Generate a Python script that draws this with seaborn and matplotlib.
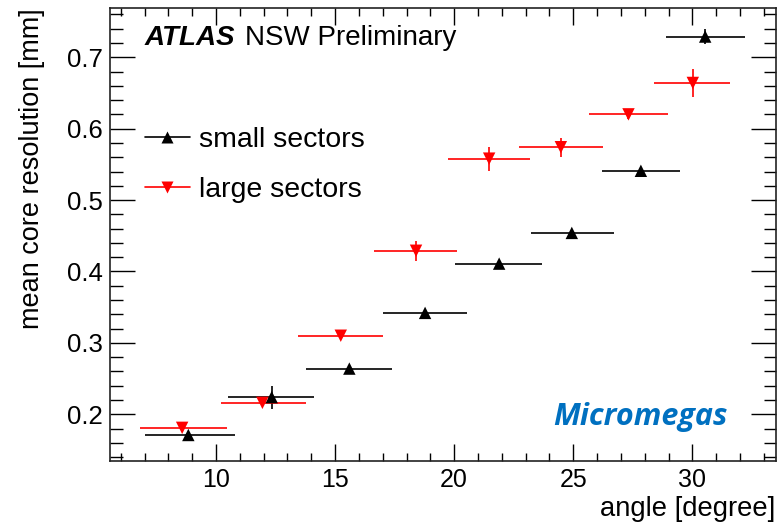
import matplotlib
matplotlib.use("Agg")
import matplotlib.pyplot as plt
from matplotlib.lines import Line2D
from matplotlib.ticker import MultipleLocator
import seaborn as sns
import pandas as pd

# ---- data ----
small_x = [8.84, 12.34, 15.60, 18.78, 21.89, 24.94, 27.84, 30.54]
small_y = [0.171, 0.224, 0.264, 0.342, 0.411, 0.454, 0.541, 0.729]
small_xlo = [7.02, 10.52, 13.78, 17.00, 20.05, 23.22, 26.20, 28.90]
small_xhi = [10.80, 14.10, 17.40, 20.56, 23.68, 26.73, 29.50, 32.20]
small_yerr = [0.004, 0.016, 0.004, 0.004, 0.003, 0.004, 0.004, 0.011]

large_x = [8.58, 11.95, 15.24, 18.40, 21.47, 24.48, 27.32, 30.02]
large_y = [0.181, 0.216, 0.310, 0.429, 0.558, 0.574, 0.620, 0.664]
large_xlo = [6.80, 10.20, 13.46, 16.64, 19.75, 22.74, 25.67, 28.40]
large_xhi = [10.45, 13.77, 17.03, 20.14, 23.19, 26.23, 28.98, 31.60]
large_yerr = [0.004, 0.005, 0.005, 0.014, 0.017, 0.013, 0.006, 0.020]

series_labels = ["small sectors", "large sectors"]
xlabel = "angle [degree]"
ylabel = "mean core resolution [mm]"

sns.set_theme(style="ticks")
plt.rcParams["font.family"] = ["Liberation Sans", "DejaVu Sans"]
plt.rcParams["text.color"] = "black"
plt.rcParams["axes.labelcolor"] = "black"
plt.rcParams["xtick.color"] = "black"
plt.rcParams["ytick.color"] = "black"

fig = plt.figure(figsize=(7.81, 5.22), dpi=100)
ax = fig.add_axes([0.1408, 0.1169, 0.8524, 0.8678])

df_s = pd.DataFrame({"x": small_x, "y": small_y})
df_l = pd.DataFrame({"x": large_x, "y": large_y})

def draw(xs, ys, xlo, xhi, yerr, color):
    xe = [[x - lo for x, lo in zip(xs, xlo)], [hi - x for x, hi in zip(xs, xhi)]]
    ax.errorbar(xs, ys, xerr=xe, yerr=yerr, fmt="none", ecolor=color,
                elinewidth=1.2, capsize=0, zorder=2)

draw(small_x, small_y, small_xlo, small_xhi, small_yerr, "black")
draw(large_x, large_y, large_xlo, large_xhi, large_yerr, "#ff0000")
sns.scatterplot(data=df_s, x="x", y="y", marker="^", color="black", s=80,
                edgecolor="none", ax=ax, zorder=3)
sns.scatterplot(data=df_l, x="x", y="y", marker="v", color="#ff0000", s=80,
                edgecolor="none", ax=ax, zorder=3)

ax.set_xlim(5.55, 33.5)
ax.set_ylim(0.1346, 0.769)
ax.xaxis.set_major_locator(MultipleLocator(5))
ax.xaxis.set_minor_locator(MultipleLocator(1))
ax.yaxis.set_major_locator(MultipleLocator(0.1))
ax.yaxis.set_minor_locator(MultipleLocator(0.02))
ax.set_xticks([10, 15, 20, 25, 30])
ax.set_yticks([0.2, 0.3, 0.4, 0.5, 0.6, 0.7])
ax.set_yticklabels(["0.2", "0.3", "0.4", "0.5", "0.6", "0.7"])

ax.tick_params(axis="x", which="major", direction="in", length=12, width=1.0,
               top=True, bottom=True, labelsize=18, pad=5)
ax.tick_params(axis="x", which="minor", direction="in", length=6, width=1.0,
               top=True, bottom=True)
ax.tick_params(axis="y", which="major", direction="in", length=18, width=1.0,
               left=True, right=True, labelsize=18.5, pad=5)
ax.tick_params(axis="y", which="minor", direction="in", length=9, width=1.0,
               left=True, right=True)
for sp in ax.spines.values():
    sp.set_linewidth(1.2)
    sp.set_color("#222222")

ax.set_xlabel(xlabel, fontsize=19.7, loc="right")
ax.xaxis.set_label_coords(1.0, -0.077)
ax.set_ylabel(ylabel, fontsize=19.5, loc="top")
ax.yaxis.set_label_coords(-0.098, 1.0)

ax.text(0.0526, 0.934, "ATLAS", transform=ax.transAxes, fontsize=20,
        fontweight="bold", fontstyle="italic", va="center", ha="left")
ax.text(0.203, 0.934, "NSW Preliminary", transform=ax.transAxes, fontsize=20,
        va="center", ha="left")

handles = [
    Line2D([], [], color="black", lw=1.2, marker="^", markersize=8.5,
           markeredgecolor="none"),
    Line2D([], [], color="#ff0000", lw=1.2, marker="v", markersize=8.5,
           markeredgecolor="none"),
]
ax.legend(handles, series_labels, loc="center left",
          bbox_to_anchor=(0.052, 0.654), frameon=False, fontsize=20.5,
          handlelength=1.6, handletextpad=0.3, labelspacing=0.85,
          borderaxespad=0, borderpad=0)

ax.text(0.928, 0.098, "Micromegas", transform=ax.transAxes,
        fontsize=22, fontweight="bold", fontstyle="italic", color="#0070c0",
        family=["Open Sans", "DejaVu Sans"], ha="right", va="center")

fig.savefig("out.png", dpi=100)
